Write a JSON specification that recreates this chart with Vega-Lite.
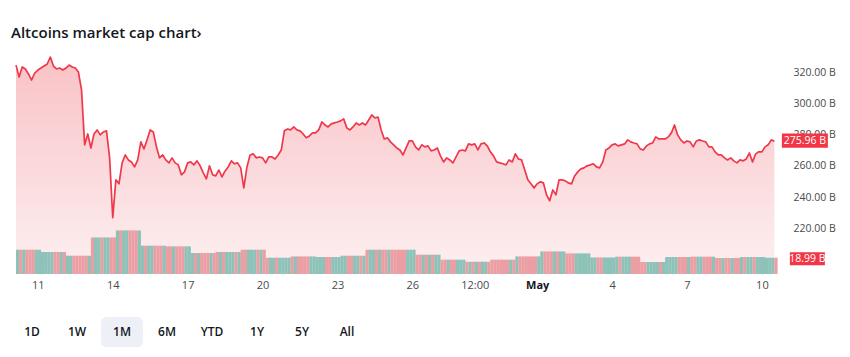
{
  "$schema": "https://vega.github.io/schema/vega-lite/v6.json",
  "background": "white",
  "padding": {"left": 11, "top": 26, "right": 5, "bottom": 5},
  "title": {"text": "Altcoins market cap chart›", "anchor": "start", "frame": "group", "font": "Open Sans", "fontSize": 15, "fontWeight": 600, "color": "#131722", "offset": 7},
  "datasets": {
    "mc": [
      {"h":3,"p":324.9,"v":28.3},{"h":6,"p":317.2,"v":28.3},{"h":9,"p":323.7,"v":28.3},{"h":12,"p":322.4,"v":28.3},{"h":15,"p":319.2,"v":28.3},{"h":18,"p":315.3,"v":28.3},{"h":21,"p":319.8,"v":28.3},{"h":24,"p":321.7,"v":28.3},
      {"h":27,"p":323.0,"v":25.6},{"h":30,"p":324.3,"v":25.6},{"h":33,"p":325.6,"v":25.6},{"h":36,"p":330.1,"v":25.6},{"h":39,"p":324.3,"v":25.6},{"h":42,"p":322.4,"v":25.6},{"h":45,"p":323.0,"v":25.6},{"h":48,"p":321.7,"v":25.6},
      {"h":51,"p":323.0,"v":21.3},{"h":54,"p":324.9,"v":21.3},{"h":57,"p":323.7,"v":21.3},{"h":60,"p":323.0,"v":21.3},{"h":63,"p":320.4,"v":21.3},{"h":66,"p":308.9,"v":21.3},{"h":69,"p":273.6,"v":21.3},{"h":72,"p":280.6,"v":21.3},
      {"h":75,"p":271.6,"v":42.6},{"h":78,"p":280.6,"v":42.6},{"h":81,"p":283.2,"v":42.6},{"h":84,"p":280.0,"v":42.6},{"h":87,"p":281.9,"v":42.6},{"h":90,"p":282.6,"v":42.6},{"h":93,"p":265.2,"v":42.6},{"h":96,"p":226.7,"v":42.6},
      {"h":99,"p":251.1,"v":50.8},{"h":102,"p":248.5,"v":50.8},{"h":105,"p":262.0,"v":50.8},{"h":108,"p":267.1,"v":50.8},{"h":111,"p":263.9,"v":50.8},{"h":114,"p":262.6,"v":50.8},{"h":117,"p":259.4,"v":50.8},{"h":120,"p":263.9,"v":50.8},
      {"h":123,"p":275.5,"v":33.0},{"h":126,"p":271.0,"v":33.0},{"h":129,"p":276.8,"v":33.0},{"h":132,"p":283.2,"v":33.0},{"h":135,"p":281.9,"v":33.0},{"h":138,"p":272.3,"v":33.0},{"h":141,"p":265.2,"v":33.0},{"h":144,"p":267.1,"v":33.0},
      {"h":147,"p":263.9,"v":32.2},{"h":150,"p":262.0,"v":32.2},{"h":153,"p":265.2,"v":32.2},{"h":156,"p":262.0,"v":32.2},{"h":159,"p":260.7,"v":32.2},{"h":162,"p":254.3,"v":32.2},{"h":165,"p":256.2,"v":32.2},{"h":168,"p":262.0,"v":32.2},
      {"h":171,"p":262.6,"v":24.5},{"h":174,"p":260.7,"v":24.5},{"h":177,"p":263.3,"v":24.5},{"h":180,"p":260.1,"v":24.5},{"h":183,"p":255.6,"v":24.5},{"h":186,"p":251.7,"v":24.5},{"h":189,"p":260.1,"v":24.5},{"h":192,"p":254.3,"v":24.5},
      {"h":195,"p":253.6,"v":25.6},{"h":198,"p":257.4,"v":25.6},{"h":201,"p":253.0,"v":25.6},{"h":204,"p":256.8,"v":25.6},{"h":207,"p":259.4,"v":25.6},{"h":210,"p":263.3,"v":25.6},{"h":213,"p":261.4,"v":25.6},{"h":216,"p":262.0,"v":25.6},
      {"h":219,"p":258.8,"v":28.3},{"h":222,"p":245.9,"v":28.3},{"h":225,"p":259.4,"v":28.3},{"h":228,"p":267.1,"v":28.3},{"h":231,"p":267.8,"v":28.3},{"h":234,"p":265.2,"v":28.3},{"h":237,"p":265.8,"v":28.3},{"h":240,"p":265.2,"v":28.3},
      {"h":243,"p":262.0,"v":19.0},{"h":246,"p":265.8,"v":19.0},{"h":249,"p":265.8,"v":19.0},{"h":252,"p":264.5,"v":19.0},{"h":255,"p":267.1,"v":19.0},{"h":258,"p":270.3,"v":19.0},{"h":261,"p":282.6,"v":19.0},{"h":264,"p":283.8,"v":19.0},
      {"h":267,"p":283.2,"v":20.5},{"h":270,"p":285.1,"v":20.5},{"h":273,"p":283.2,"v":20.5},{"h":276,"p":282.6,"v":20.5},{"h":279,"p":280.6,"v":20.5},{"h":282,"p":278.1,"v":20.5},{"h":285,"p":279.3,"v":20.5},{"h":288,"p":281.3,"v":20.5},
      {"h":291,"p":281.3,"v":19.8},{"h":294,"p":283.2,"v":19.8},{"h":297,"p":288.3,"v":19.8},{"h":300,"p":286.4,"v":19.8},{"h":303,"p":285.1,"v":19.8},{"h":306,"p":287.1,"v":19.8},{"h":309,"p":287.7,"v":19.8},{"h":312,"p":288.3,"v":19.8},
      {"h":315,"p":289.0,"v":21.3},{"h":318,"p":290.3,"v":21.3},{"h":321,"p":284.5,"v":21.3},{"h":324,"p":283.2,"v":21.3},{"h":327,"p":285.1,"v":21.3},{"h":330,"p":287.7,"v":21.3},{"h":333,"p":286.4,"v":21.3},{"h":336,"p":287.7,"v":21.3},
      {"h":339,"p":286.4,"v":28.3},{"h":342,"p":289.6,"v":28.3},{"h":345,"p":292.8,"v":28.3},{"h":348,"p":290.9,"v":28.3},{"h":351,"p":291.5,"v":28.3},{"h":354,"p":283.2,"v":28.3},{"h":357,"p":277.4,"v":28.3},{"h":360,"p":278.1,"v":28.3},
      {"h":363,"p":275.5,"v":28.3},{"h":366,"p":273.6,"v":28.3},{"h":369,"p":271.6,"v":28.3},{"h":372,"p":270.3,"v":28.3},{"h":375,"p":267.1,"v":28.3},{"h":378,"p":271.6,"v":28.3},{"h":381,"p":276.1,"v":28.3},{"h":384,"p":276.1,"v":28.3},
      {"h":387,"p":272.3,"v":22.5},{"h":390,"p":270.3,"v":22.5},{"h":393,"p":273.6,"v":22.5},{"h":396,"p":272.3,"v":22.5},{"h":399,"p":272.9,"v":22.5},{"h":402,"p":269.7,"v":22.5},{"h":405,"p":270.3,"v":22.5},{"h":408,"p":271.6,"v":22.5},
      {"h":411,"p":266.5,"v":16.7},{"h":414,"p":262.6,"v":16.7},{"h":417,"p":265.2,"v":16.7},{"h":420,"p":263.9,"v":16.7},{"h":423,"p":262.0,"v":16.7},{"h":426,"p":265.8,"v":16.7},{"h":429,"p":269.7,"v":16.7},{"h":432,"p":270.3,"v":16.7},
      {"h":435,"p":269.7,"v":14.3},{"h":438,"p":274.2,"v":14.3},{"h":441,"p":273.6,"v":14.3},{"h":444,"p":274.2,"v":14.3},{"h":447,"p":270.3,"v":14.3},{"h":450,"p":274.2,"v":14.3},{"h":453,"p":274.8,"v":14.3},{"h":456,"p":272.9,"v":14.3},
      {"h":459,"p":269.1,"v":16.7},{"h":462,"p":266.5,"v":16.7},{"h":465,"p":262.6,"v":16.7},{"h":468,"p":262.0,"v":16.7},{"h":471,"p":261.4,"v":16.7},{"h":474,"p":260.7,"v":16.7},{"h":477,"p":263.9,"v":16.7},{"h":480,"p":262.6,"v":16.7},
      {"h":483,"p":267.8,"v":20.5},{"h":486,"p":264.5,"v":20.5},{"h":489,"p":263.9,"v":20.5},{"h":492,"p":257.5,"v":20.5},{"h":495,"p":251.1,"v":20.5},{"h":498,"p":248.5,"v":20.5},{"h":501,"p":245.9,"v":20.5},{"h":504,"p":248.5,"v":20.5},
      {"h":507,"p":249.8,"v":26.3},{"h":510,"p":249.1,"v":26.3},{"h":513,"p":241.4,"v":26.3},{"h":516,"p":237.6,"v":26.3},{"h":519,"p":244.6,"v":26.3},{"h":522,"p":241.4,"v":26.3},{"h":525,"p":251.1,"v":26.3},{"h":528,"p":251.1,"v":26.3},
      {"h":531,"p":250.4,"v":24.0},{"h":534,"p":249.1,"v":24.0},{"h":537,"p":248.5,"v":24.0},{"h":540,"p":253.6,"v":24.0},{"h":543,"p":256.2,"v":24.0},{"h":546,"p":258.1,"v":24.0},{"h":549,"p":258.8,"v":24.0},{"h":552,"p":260.1,"v":24.0},
      {"h":555,"p":260.7,"v":19.3},{"h":558,"p":261.4,"v":19.3},{"h":561,"p":259.4,"v":19.3},{"h":564,"p":258.8,"v":19.3},{"h":567,"p":262.6,"v":19.3},{"h":570,"p":270.3,"v":19.3},{"h":573,"p":271.6,"v":19.3},{"h":576,"p":273.6,"v":19.3},
      {"h":579,"p":274.2,"v":20.2},{"h":582,"p":272.9,"v":20.2},{"h":585,"p":273.6,"v":20.2},{"h":588,"p":274.2,"v":20.2},{"h":591,"p":276.8,"v":20.2},{"h":594,"p":275.5,"v":20.2},{"h":597,"p":274.8,"v":20.2},{"h":600,"p":274.2,"v":20.2},
      {"h":603,"p":271.0,"v":14.0},{"h":606,"p":270.3,"v":14.0},{"h":609,"p":272.9,"v":14.0},{"h":612,"p":274.2,"v":14.0},{"h":615,"p":274.8,"v":14.0},{"h":618,"p":278.7,"v":14.0},{"h":621,"p":277.4,"v":14.0},{"h":624,"p":277.4,"v":14.0},
      {"h":627,"p":277.4,"v":19.8},{"h":630,"p":278.7,"v":19.8},{"h":633,"p":281.3,"v":19.8},{"h":636,"p":286.4,"v":19.8},{"h":639,"p":280.0,"v":19.8},{"h":642,"p":276.8,"v":19.8},{"h":645,"p":274.8,"v":19.8},{"h":648,"p":276.1,"v":19.8},
      {"h":651,"p":275.5,"v":20.2},{"h":654,"p":272.3,"v":20.2},{"h":657,"p":276.1,"v":20.2},{"h":660,"p":276.8,"v":20.2},{"h":663,"p":276.1,"v":20.2},{"h":666,"p":275.5,"v":20.2},{"h":669,"p":272.3,"v":20.2},{"h":672,"p":272.3,"v":20.2},
      {"h":675,"p":269.1,"v":18.6},{"h":678,"p":267.1,"v":18.6},{"h":681,"p":267.1,"v":18.6},{"h":684,"p":265.2,"v":18.6},{"h":687,"p":263.9,"v":18.6},{"h":690,"p":265.2,"v":18.6},{"h":693,"p":263.3,"v":18.6},{"h":696,"p":262.0,"v":18.6},
      {"h":699,"p":263.9,"v":19.8},{"h":702,"p":263.3,"v":19.8},{"h":705,"p":264.5,"v":19.8},{"h":708,"p":268.4,"v":19.8},{"h":711,"p":262.6,"v":19.8},{"h":714,"p":267.8,"v":19.8},{"h":717,"p":269.1,"v":19.8},{"h":720,"p":269.1,"v":19.8},
      {"h":723,"p":272.3,"v":18.99},{"h":726,"p":273.6,"v":18.99},{"h":729,"p":276.8,"v":18.99},{"h":732,"p":275.96,"v":18.99}
    ],
    "buttons": [
      {"b":"1D","s":0},{"b":"1W","s":0},{"b":"1M","s":1},{"b":"6M","s":0},{"b":"YTD","s":0},{"b":"1Y","s":0},{"b":"5Y","s":0},{"b":"All","s":0}
    ]
  },
  "vconcat": [
    {
      "width": 774,
      "height": 226,
      "data": {"name": "mc"},
      "encoding": {
        "x": {
          "field": "h", "type": "quantitative",
          "scale": {"domain": [3, 737.4], "nice": false, "zero": false},
          "axis": {
            "values": [24, 96, 168, 240, 312, 384, 444, 504, 576, 648, 720],
            "labelExpr": "datum.value == 444 ? '12:00' : datum.value == 504 ? 'May' : datum.value < 504 ? toString(10 + datum.value / 24) : toString((datum.value - 480) / 24)",
            "labelPadding": 5,
            "labelFontSize": 11,
            "labelFontWeight": {"condition": {"test": "datum.value == 504", "value": "bold"}, "value": "normal"},
            "labelColor": {"condition": {"test": "datum.value == 504", "value": "#131722"}, "value": "#4a4a4a"},
            "labelOverlap": false,
            "title": null
          }
        }
      },
      "layer": [
        {
          "encoding": {
            "y": {
              "field": "p", "type": "quantitative",
              "scale": {"domain": [190.5, 335.9], "nice": false, "zero": false},
              "axis": {
                "orient": "right",
                "values": [220, 240, 260, 280, 300, 320],
                "labelExpr": "format(datum.value, '.2f') + ' B'",
                "labelPadding": 8,
                "labelFontSize": 10.5,
                "labelColor": "#4a4a4a",
                "title": null
              }
            }
          },
          "layer": [
            {
              "mark": {
                "type": "area",
                "color": {
                  "gradient": "linear", "x1": 1, "y1": 0, "x2": 1, "y2": 1,
                  "stops": [{"offset": 0, "color": "#f9c2c6"}, {"offset": 1, "color": "#fdf0f1"}]
                }
              },
              "encoding": {"y2": {"datum": 190.5}}
            },
            {"mark": {"type": "line", "color": "#f0384b", "strokeWidth": 1.7, "strokeJoin": "round"}},
            {
              "transform": [{"filter": "datum.h == 732"}],
              "mark": {"type": "point", "shape": "M-2.3,-0.72H2.3V0.72H-2.3Z", "size": 400, "filled": true, "color": "#f23645", "opacity": 1, "strokeWidth": 0, "xOffset": 30.5, "yOffset": -0.5}
            },
            {
              "transform": [{"filter": "datum.h == 732"}, {"calculate": "format(datum.p, '.2f') + ' B'", "as": "lbl"}],
              "mark": {"type": "text", "color": "white", "fontSize": 10.5, "font": "Open Sans", "xOffset": 30.5, "yOffset": -0.5},
              "encoding": {"text": {"field": "lbl"}}
            }
          ]
        },
        {
          "encoding": {
            "y": {
              "field": "v", "type": "quantitative",
              "scale": {"domain": [0, 263.3], "nice": false},
              "axis": null
            }
          },
          "layer": [
            {
              "transform": [{"window": [{"op": "lag", "field": "p", "as": "pp"}], "sort": [{"field": "h"}]}],
              "mark": {"type": "bar", "width": 3.25, "xOffset": 1.6},
              "encoding": {
                "color": {"condition": {"test": "datum.pp == null || datum.p >= datum.pp", "value": "#8cc2b8"}, "value": "#eb9fa4"}
              }
            },
            {
              "transform": [{"filter": "datum.h == 732"}],
              "mark": {"type": "point", "shape": "M-1.75,-0.65H1.75V0.65H-1.75Z", "size": 400, "filled": true, "color": "#f23645", "opacity": 1, "strokeWidth": 0, "xOffset": 33, "yOffset": 1}
            },
            {
              "transform": [{"filter": "datum.h == 732"}, {"calculate": "format(datum.v, '.2f') + ' B'", "as": "lbl"}],
              "mark": {"type": "text", "color": "white", "fontSize": 10.5, "font": "Open Sans", "xOffset": 33, "yOffset": 1},
              "encoding": {"text": {"field": "lbl"}}
            }
          ]
        }
      ],
      "resolve": {"scale": {"y": "independent"}}
    },
    {
      "width": 357,
      "height": 30,
      "data": {"name": "buttons"},
      "encoding": {
        "x": {"field": "b", "type": "ordinal", "sort": null, "scale": {"type": "point", "padding": 0.4667, "domain": ["1D", "1W", "1M", "6M", "YTD", "1Y", "5Y", "All"]}, "axis": null}
      },
      "layer": [
        {
          "transform": [{"filter": "datum.s == 1"}],
          "mark": {"type": "point", "shape": "M-1.5,-1.5H1.5Q2.1,-1.5 2.1,-0.9V0.9Q2.1,1.5 1.5,1.5H-1.5Q-2.1,1.5 -2.1,0.9V-0.9Q-2.1,-1.5 -1.5,-1.5Z", "size": 400, "filled": true, "color": "#eef0f7", "opacity": 1, "strokeWidth": 0}
        },
        {
          "mark": {"type": "text", "fontSize": 12, "font": "Open Sans", "fontWeight": 600, "color": "#131722"},
          "encoding": {"text": {"field": "b"}}
        }
      ]
    }
  ],
  "spacing": 27,
  "config": {
    "view": {"stroke": null},
    "font": "Open Sans",
    "axis": {"grid": false, "domain": false, "ticks": false, "labelFont": "Open Sans"}
  }
}
